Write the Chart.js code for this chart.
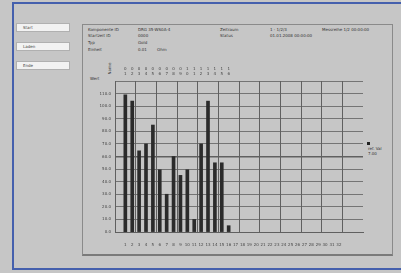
<!DOCTYPE html>
<html>
<head>
<meta charset="utf-8">
<script src="https://cdn.jsdelivr.net/npm/chart.js@4"></script>
<style>
    body { margin: 0; width: 401px; height: 273px; background: #c6c6c6; position: relative; overflow: hidden; font-family: "DejaVu Sans", sans-serif; }
    .frame { position: absolute; left: 12px; top: 2px; width: 400px; height: 268px; border: 2px solid #4560ad; box-sizing: border-box; }
    .btn { position: absolute; left: 16px; width: 54px; height: 9px; background: #f2f2f2; border: 1px solid #b0b0b0; box-sizing: border-box; font-size: 4px; line-height: 8px; color: #444; padding-left: 6px; }
    .panel { position: absolute; left: 82px; top: 24px; width: 311px; height: 232px; border: 1px solid #8a8a8a; border-bottom: 2px solid #7a7a7a; box-sizing: border-box; }
    .t { position: absolute; font-size: 4px; color: #333; white-space: nowrap; }
    #wrap { position: absolute; left: 84px; top: 55px; width: 308px; height: 195px; }
</style>
</head>
<body>
<div class="frame"></div>
<div class="btn" style="top:23px">Start</div>
<div class="btn" style="top:42px">Laden</div>
<div class="btn" style="top:61px">Ende</div>
<div class="panel"></div>

<div class="t" style="left:88px;top:27px">Komponente ID</div>
<div class="t" style="left:88px;top:33px">Startzeit ID</div>
<div class="t" style="left:88px;top:40px">Typ</div>
<div class="t" style="left:88px;top:47px">Einheit</div>
<div class="t" style="left:138px;top:27px">DRG 35-WS0A-4</div>
<div class="t" style="left:138px;top:33px">0000</div>
<div class="t" style="left:138px;top:40px">Gold</div>
<div class="t" style="left:138px;top:47px">0.01</div>
<div class="t" style="left:157px;top:47px">Ohm</div>
<div class="t" style="left:220px;top:27px">Zeitraum</div>
<div class="t" style="left:220px;top:33px">Status</div>
<div class="t" style="left:270px;top:27px">1 - 1/2/3</div>
<div class="t" style="left:270px;top:33px">01.01.2008 00:00:00</div>
<div class="t" style="left:322px;top:27px">Messreihe 1/2 00:00:00</div>

<div class="t" style="left:104px;top:66px;transform:rotate(-90deg);transform-origin:center">Name</div>
<div class="t" style="left:90px;top:76px">Wert</div>

<div style="position:absolute;left:367px;top:142px;width:3px;height:3px;background:#222"></div>
<div class="t" style="left:368px;top:146px">ref. Val</div>
<div class="t" style="left:368px;top:151px">7.00</div>

<div id="wrap"><canvas id="barChart"></canvas></div>

<script>
// 類別（底部標籤）
const categories = ['', '1', '2', '3', '4', '5', '6', '7', '8', '9', '10', '11', '12', '13', '14', '15', '16',
    '17', '18', '19', '20', '21', '22', '23', '24', '25', '26', '27', '28', '29', '30', '31', '32', '', '', ''];
// 頂部標籤（兩行）
const topLabels = ['', ['0', '1'], ['0', '2'], ['0', '3'], ['0', '4'], ['0', '5'], ['0', '6'], ['0', '7'], ['0', '8'],
    ['0', '9'], ['1', '0'], ['1', '1'], ['1', '2'], ['1', '3'], ['1', '4'], ['1', '5'], ['1', '6'],
    '', '', '', '', '', '', '', '', '', '', '', '', '', '', '', '', '', '', ''];
// 數值
const values = [null, 109, 104, 64.5, 70, 85, 49.5, 30, 60, 45, 49.5, 10, 70, 104, 55, 55, 5];
// 參考線
const refValue = 60;
const yMax = 120;
const yStep = 10;

const lineColor = '#606060';

const chartInfo = {
    type: 'bar',
    data: {
        labels: categories,
        datasets: [{
            data: values,
            backgroundColor: '#2b2b2b',
            barThickness: 3,
            xAxisID: 'x'
        }]
    },
    options: {
        responsive: true,
        maintainAspectRatio: false,
        animation: false,
        layout: { padding: { left: 0, right: 29, top: 0, bottom: 0 } },
        plugins: { legend: { display: false }, tooltip: { enabled: false } },
        scales: {
            x: {
                position: 'bottom',
                grid: {
                    color: ctx => (ctx.index % 3 === 0 ? lineColor : 'rgba(0,0,0,0)'),
                    lineWidth: 1,
                    drawTicks: false
                },
                border: { display: true, color: lineColor },
                ticks: {
                    color: '#444',
                    font: { size: 4, family: 'DejaVu Sans' },
                    autoSkip: false,
                    maxRotation: 0,
                    padding: 11
                },
                afterFit: axis => { axis.height = 18; }
            },
            x2: {
                type: 'category',
                position: 'top',
                labels: topLabels,
                grid: { display: false, drawTicks: false },
                border: { display: false },
                offset: true,
                ticks: {
                    color: '#444',
                    font: { size: 4, family: 'DejaVu Sans' },
                    autoSkip: false,
                    maxRotation: 0,
                    padding: 5
                },
                afterFit: axis => { axis.height = 26; }
            },
            y: {
                min: 0,
                max: yMax,
                grid: {
                    color: lineColor,
                    lineWidth: ctx => (ctx.tick && ctx.tick.value === refValue ? 1.6 : 0.8),
                    drawTicks: false
                },
                border: { display: true, color: lineColor },
                ticks: {
                    stepSize: yStep,
                    color: '#444',
                    font: { size: 4, family: 'DejaVu Sans' },
                    padding: 4,
                    callback: v => (v === yMax ? '' : v.toFixed(1))
                },
                afterFit: axis => { axis.width = 31; }
            }
        }
    }
};

const barChart = new Chart(document.getElementById('barChart'), chartInfo);
</script>
</body>
</html>
